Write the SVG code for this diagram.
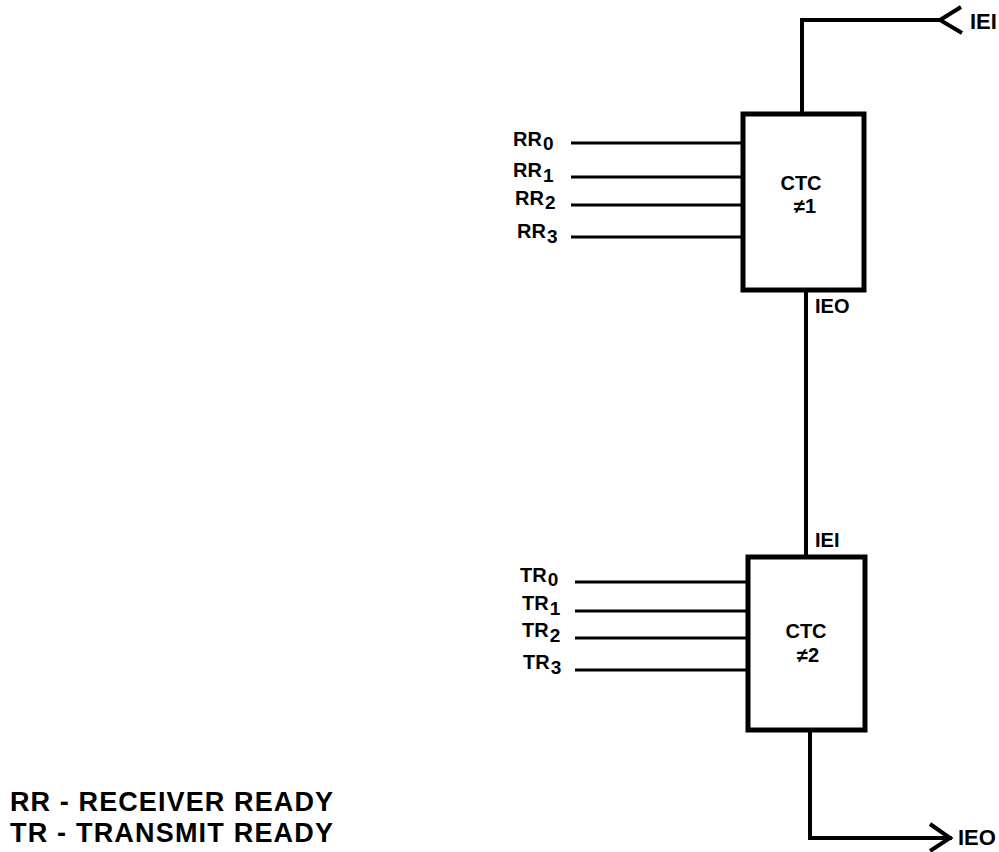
<svg xmlns="http://www.w3.org/2000/svg" width="999" height="852" viewBox="0 0 999 852">
  <style>
    text { font-family: "Liberation Sans", Arial, Helvetica, sans-serif; font-weight: bold; fill: #000; }
    .box { fill: #fff; stroke: #000; stroke-width: 5; }
    .wire { fill: none; stroke: #000; stroke-width: 4; stroke-linecap: square; }
    .in { fill: none; stroke: #000; stroke-width: 3; }
    .chev { fill: none; stroke: #000; stroke-width: 4; stroke-linejoin: miter; }
    .lbl { font-size: 20px; }
    .sub { font-size: 19px; }
    .pin { font-size: 20px; }
    .ctc { font-size: 20px; text-anchor: middle; }
    .legend { font-size: 27px; }
  </style>
  <rect width="999" height="852" fill="#fff"/>

  <g id="connectors">
    <polyline class="wire" points="802,114 802,20 940,20"/>
    <polyline class="chev" points="961,7 940,20 962,33"/>
    <line class="wire" x1="806" y1="290" x2="806" y2="557"/>
    <polyline class="wire" points="810,730 810,838 950,838"/>
    <polyline class="chev" points="930,824 950,838 930,851"/>
    <line class="in" x1="571" y1="143" x2="743" y2="143"/>
    <line class="in" x1="571" y1="177" x2="743" y2="177"/>
    <line class="in" x1="571" y1="205" x2="743" y2="205"/>
    <line class="in" x1="571" y1="237" x2="743" y2="237"/>
    <line class="in" x1="575" y1="582" x2="748" y2="582"/>
    <line class="in" x1="575" y1="611" x2="748" y2="611"/>
    <line class="in" x1="575" y1="638" x2="748" y2="638"/>
    <line class="in" x1="575" y1="670" x2="748" y2="670"/>
  </g>

  <g id="ctc1">
    <rect class="box" x="743" y="114" width="121" height="176"/>
    <text class="ctc" x="801" y="190">CTC</text>
    <text class="ctc" x="805" y="213">≠1</text>
  </g>

  <g id="ctc2">
    <rect class="box" x="748" y="557" width="117" height="173"/>
    <text class="ctc" x="806" y="638">CTC</text>
    <text class="ctc" x="808" y="662">≠2</text>
  </g>

  <g id="rr-labels">
    <text class="lbl" x="513" y="146">RR<tspan class="sub" dx="1" dy="4">0</tspan></text>
    <text class="lbl" x="513" y="177">RR<tspan class="sub" dx="1" dy="5">1</tspan></text>
    <text class="lbl" x="515" y="205">RR<tspan class="sub" dx="1" dy="4">2</tspan></text>
    <text class="lbl" x="517" y="238">RR<tspan class="sub" dx="1" dy="5">3</tspan></text>
  </g>

  <g id="tr-labels">
    <text class="lbl" x="520" y="582">TR<tspan class="sub" dx="1" dy="4">0</tspan></text>
    <text class="lbl" x="522" y="610">TR<tspan class="sub" dx="1" dy="5">1</tspan></text>
    <text class="lbl" x="522" y="637">TR<tspan class="sub" dx="1" dy="5">2</tspan></text>
    <text class="lbl" x="523" y="669">TR<tspan class="sub" dx="1" dy="5">3</tspan></text>
  </g>

  <g id="signal-labels">
    <text class="pin" x="970" y="29" style="font-size:22px">IEI</text>
    <text class="pin" x="815" y="313">IEO</text>
    <text class="pin" x="815" y="547">IEI</text>
    <text class="pin" x="958" y="845" style="font-size:22px">IEO</text>
  </g>

  <g id="legend">
    <text class="legend" x="10" y="811" textLength="323" lengthAdjust="spacing">RR - RECEIVER READY</text>
    <text class="legend" x="10" y="842" textLength="323" lengthAdjust="spacing">TR - TRANSMIT READY</text>
  </g>
</svg>
